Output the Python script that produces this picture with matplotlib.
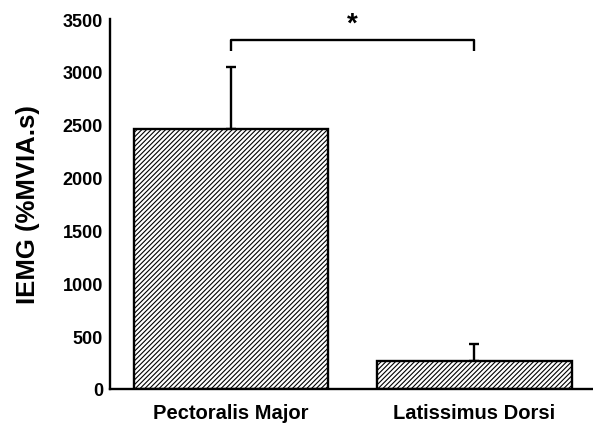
import matplotlib
matplotlib.use("Agg")
import matplotlib.pyplot as plt

categories = ["Pectoralis Major", "Latissimus Dorsi"]
means = [2460, 265]
errors = [585, 160]
y_ticks = [0, 500, 1000, 1500, 2000, 2500, 3000, 3500]
y_label = "IEMG (%MVIA.s)"
sig_bracket_y = 3300
sig_bracket_drop = 100
sig_star_y = 3330

plt.rcParams['font.family'] = ['Liberation Sans', 'DejaVu Sans']
plt.rcParams['hatch.color'] = '#a6a6a6'
plt.rcParams['hatch.linewidth'] = 0.8

fig = plt.figure(figsize=(5.93, 4.27), dpi=100)
ax = fig.add_axes([0.1855, 0.0867, 0.8145, 0.8663])

x = list(range(len(categories)))
ax.bar(x, means, width=0.8, color='white', edgecolor='black', linewidth=1.7,
       hatch='///////', zorder=2)
ax.errorbar(x, means, yerr=[[0]*len(errors), errors], fmt='none', ecolor='black',
            elinewidth=1.7, capsize=3.5, capthick=1.7, zorder=1)

ax.plot([x[0], x[0], x[1], x[1]],
        [sig_bracket_y - sig_bracket_drop, sig_bracket_y, sig_bracket_y, sig_bracket_y - sig_bracket_drop],
        color='black', linewidth=1.7, solid_capstyle='butt', clip_on=False)
ax.text((x[0]+x[1])/2, sig_star_y, '*', ha='center', va='bottom', fontsize=20, fontweight='bold')

ax.set_xlim(-0.497, 1.487)
ax.set_ylim(0, 3500)
ax.set_yticks(y_ticks)
ax.set_xticks(x)
ax.set_xticklabels(categories, fontsize=14.5, fontweight='bold')
ax.set_yticklabels([str(t) for t in y_ticks], fontsize=13, fontweight='bold')
ax.tick_params(axis='y', length=0, pad=5)
ax.tick_params(axis='x', length=0, pad=10)
ax.set_ylabel(y_label, fontsize=18.5, fontweight='bold', labelpad=16)

for s in ['top', 'right']:
    ax.spines[s].set_visible(False)
for s in ['left', 'bottom']:
    ax.spines[s].set_linewidth(1.7)

fig.savefig('out.png', dpi=100)
